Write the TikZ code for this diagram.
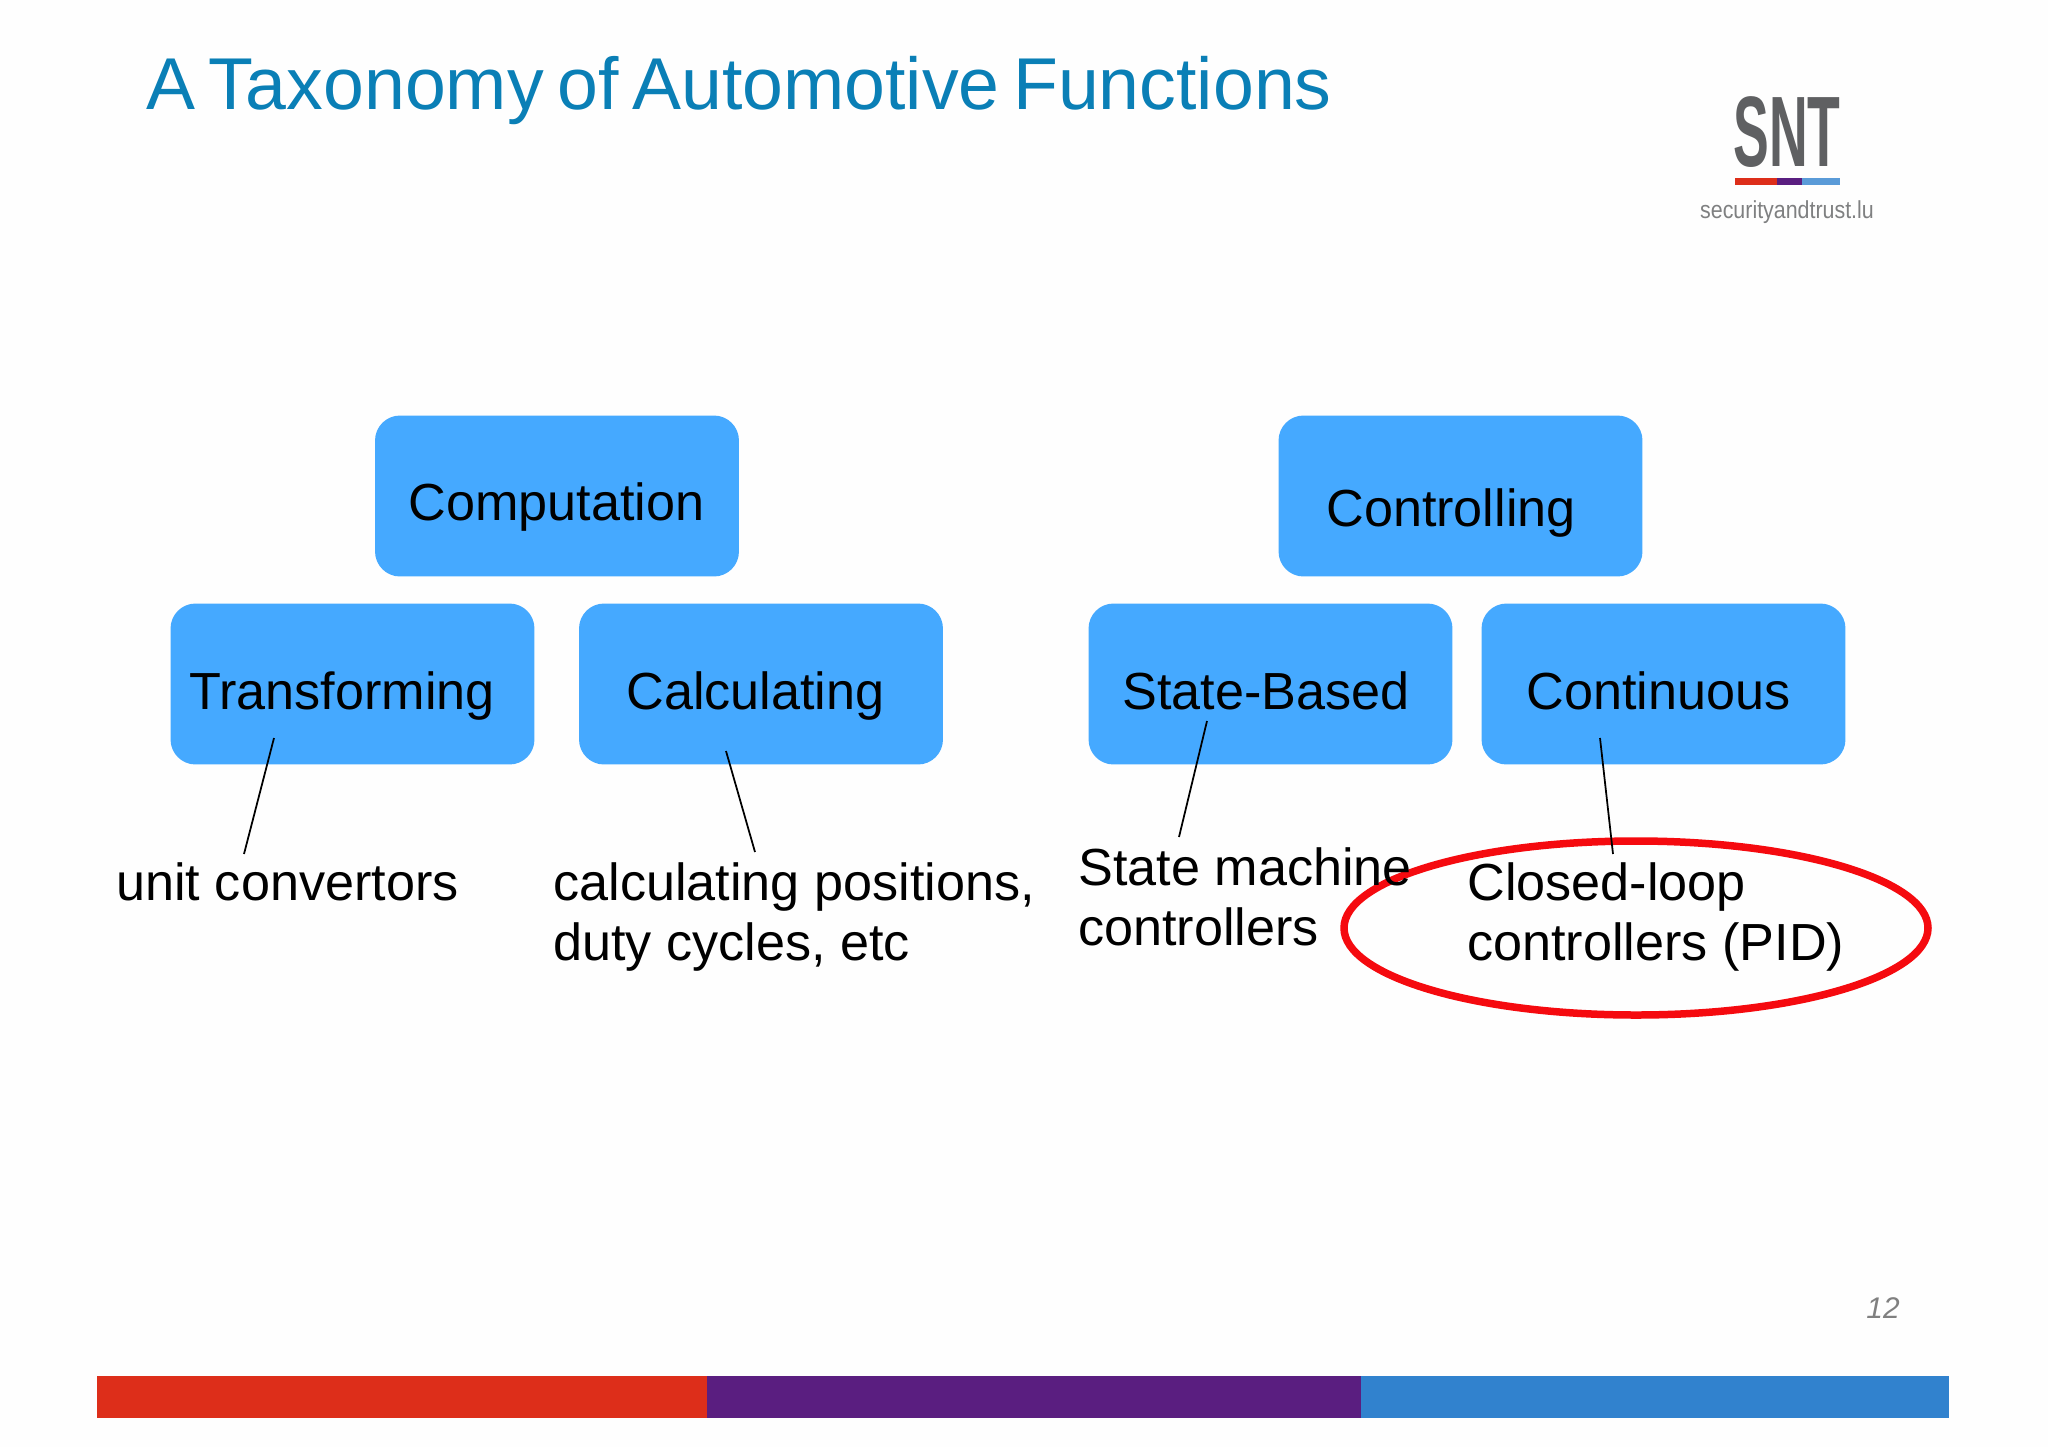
\documentclass[tikz,border=0pt]{standalone}
\usepackage{fontspec}
\setmainfont{Liberation Sans}
\newfontfamily\titlefont[WordSpace=0.67]{Liberation Sans}
\definecolor{pagebg}{HTML}{FEFEFE}
\definecolor{boxblue}{HTML}{45A9FF}
\definecolor{titleblue}{HTML}{0A7FB6}
\definecolor{barred}{HTML}{DD2E1A}
\definecolor{barpurple}{HTML}{5A1E80}
\definecolor{barblue}{HTML}{3182CE}
\definecolor{logogray}{HTML}{5F6062}
\definecolor{loopred}{HTML}{F50A0F}
\tikzset{
  px/.style={x=0.02cm,y=-0.02cm},
  bluebox/.style={fill=boxblue,draw=none,rounded corners=0.5cm,minimum width=7.28cm,minimum height=3.22cm,inner sep=0pt},
  boxlabel/.style={anchor=base west,inner sep=0pt,font=\fontsize{29.7}{34}\selectfont,text=black},
  note/.style={anchor=north west,inner sep=0pt,align=left,font=\fontsize{29.7}{34.6}\selectfont,text=black},
  tick/.style={draw=black,line width=0.035cm},
  barseg/.style={fill=#1,draw=none},
}
\begin{document}
\begin{tikzpicture}[px]
\useasboundingbox (0,0) rectangle (2048,1447);
\fill[pagebg] (0,0) rectangle (2048,1447);

% title
\node[anchor=base west,inner sep=0pt,text=titleblue,font=\titlefont\fontsize{41.8}{48}\selectfont] (title) at (146,109) {A Taxonomy of Automotive Functions};

% logo
\node[anchor=base,inner sep=0pt,text=logogray,font=\fontsize{57}{60}\bfseries\selectfont,xscale=0.535] (logo) at (1787,166) {SNT};
\fill[barred] (1735,178) rectangle (1777,185);
\fill[barpurple] (1777,178) rectangle (1802,185);
\fill[barblue!80!white] (1802,178) rectangle (1840,185);
\node[anchor=base,inner sep=0pt,text=logogray!80,font=\fontsize{14}{16}\selectfont,xscale=0.87] (logourl) at (1787,218) {securityandtrust.lu};

% boxes
\node[bluebox] (bcomp) at (557,496) {};
\node[bluebox] (bctrl) at (1460.5,496) {};
\node[bluebox] (btrans) at (352.5,684) {};
\node[bluebox] (bcalc) at (761,684) {};
\node[bluebox] (bstate) at (1270.5,684) {};
\node[bluebox] (bcont) at (1663.5,684) {};

\node[boxlabel] (lcomp) at (408,520) {Computation};
\node[boxlabel] (lctrl) at (1326,526) {Controlling};
\node[boxlabel] (ltrans) at (189,709) {Transforming};
\node[boxlabel] (lcalc) at (626,709) {Calculating};
\node[boxlabel] (lstate) at (1122,709) {State-Based};
\node[boxlabel] (lcont) at (1526,709) {Continuous};

% highlight
\draw[draw=loopred,line width=0.15cm] (1636,928) ellipse [x radius=292,y radius=87];

% notes
\node[note] (ntrans) at (116,862) {unit convertors};
\node[note] (ncalc) at (553,862) {calculating positions,\\duty cycles, etc};
\node[note] (nstate) at (1078,847) {State machine\\controllers};
\node[note] (ncont) at (1467,862) {Closed-loop\\controllers (PID)};

% connectors
\coordinate (a1) at (274,738); \coordinate (a2) at (244,854);
\coordinate (b1) at (726,751); \coordinate (b2) at (755,852);
\coordinate (c1) at (1207,721); \coordinate (c2) at (1179,837);
\coordinate (d1) at (1600,738); \coordinate (d2) at (1613,854);
\draw[tick] (a1) -- (a2);
\draw[tick] (b1) -- (b2);
\draw[tick] (c1) -- (c2);
\draw[tick] (d1) -- (d2);

% page number
\node[anchor=base,inner sep=0pt,text=gray,font=\fontsize{17}{20}\itshape\selectfont] (pageno) at (1883,1318) {12};

% footer bar
\fill[barseg=barred] (97,1376) rectangle (707,1418);
\fill[barseg=barpurple] (707,1376) rectangle (1361,1418);
\fill[barseg=barblue] (1361,1376) rectangle (1949,1418);
\end{tikzpicture}
\end{document}
